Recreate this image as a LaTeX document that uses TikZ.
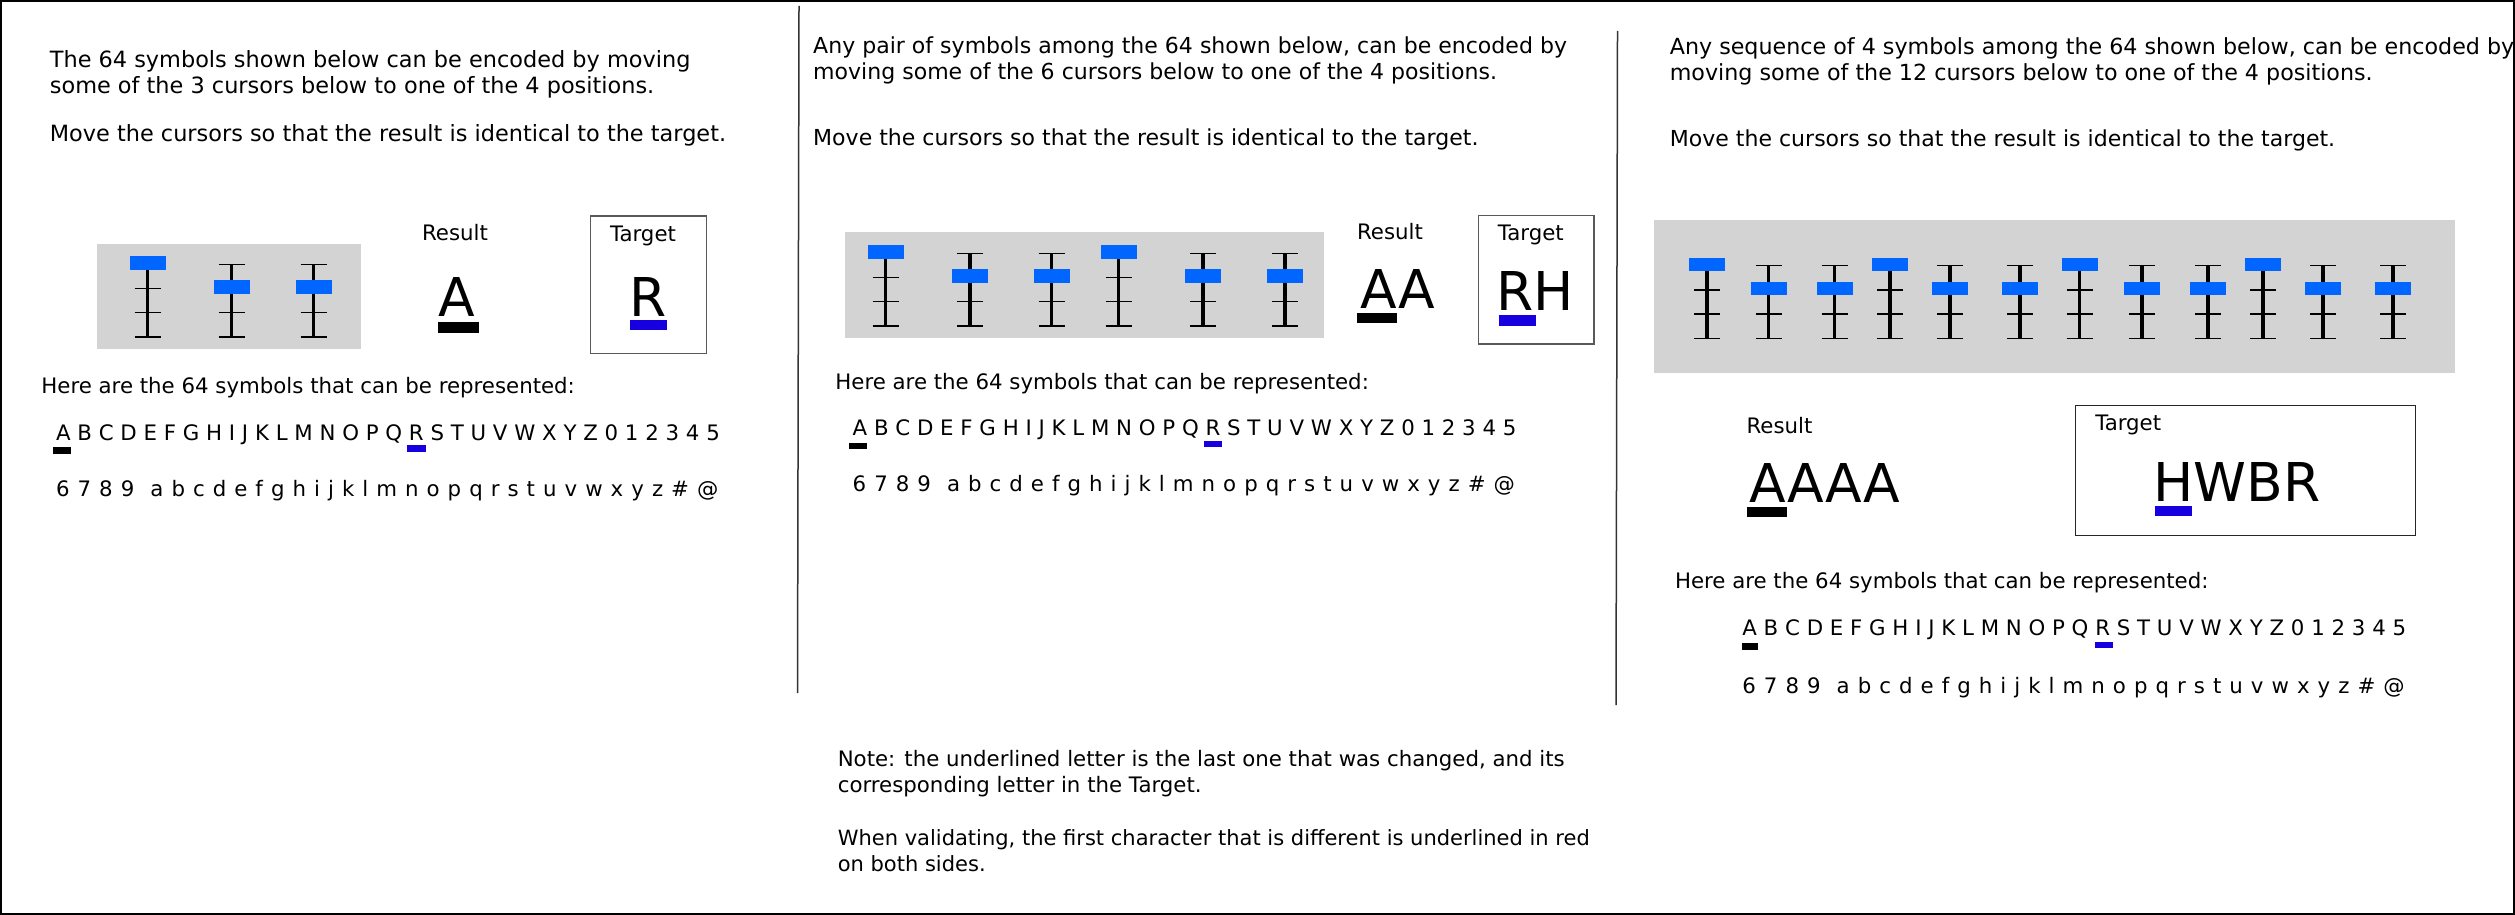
\documentclass[tikz,border=0pt]{standalone}
\usepackage{fontspec}
\setmainfont{DejaVu Sans}
\definecolor{handleblue}{RGB}{0,102,255}
\definecolor{markblue}{RGB}{22,0,224}
\definecolor{panelgray}{RGB}{211,211,211}
\tikzset{
  txt/.style={anchor=base west, inner sep=0pt, align=left, font=\fontsize{10.65}{13.35}\selectfont},
  uptxt/.style={txt, font=\fontsize{#1}{13.35}\selectfont},
  lbl/.style={anchor=base, inner sep=0pt, font=\fontsize{10.65}{13.35}\selectfont},
  bigtxt/.style={anchor=base, inner sep=0pt, font=\fontsize{26.75}{30}\selectfont},
  panel/.style={fill=panelgray},
  targetbox/.style={draw=black!65, line width=0.75pt},
  rail/.style={line width=1.65pt},
  tick/.style={line width=0.7pt},
  handle/.style={fill=handleblue},
  resmark/.style={fill=black},
  tgtmark/.style={fill=markblue},
}
\newcommand{\upperrow}{A B C D E F G H I J K L M N O P Q R S T U V W X Y Z 0 1 2 3 4 5}
\newcommand{\lowerrow}{\spaceskip=0.377em\relax 6 7 8 9\ \ a b c d e f g h i j k l m n o p q r s t u v w x y z \# @}
% #1 = y of top tick, #2 = list of x/position
\newcommand{\drawcursors}[2]{%
  \foreach \cx/\cp in {#2} {
    \draw[rail] ({\cx},{#1}) -- ({\cx},{#1+72.6});
    \foreach \k in {0,...,3}
      \draw[tick] ({\cx-13},{#1+\k*24.2}) -- ({\cx+13},{#1+\k*24.2});
    \fill[handle] ({\cx-18},{#1+\cp*24.2-8.2}) rectangle ({\cx+18},{#1+\cp*24.2+5.2});
  }}
\begin{document}
\begin{tikzpicture}[x=0.5pt, y=-0.5pt]
    \useasboundingbox (0,0) rectangle (2515,915);
    \draw[line width=1pt] (1,1) rectangle (2514,914);

    % Dividers
    \draw[line width=0.75pt, black!80] (799,6) -- (797.5,693);
    \draw[line width=0.75pt, black!80] (1617.5,31) -- (1616,705);

    % One symbol
    \node[uptxt=11.2] (intro1) at (49.5,94) {The 64 symbols shown below can be encoded by moving\\some of the 3 cursors below to one of the 4 positions.};
    \node[uptxt=11.2] (move1) at (49.5,141) {Move the cursors so that the result is identical to the target.};
    \fill[panel] (97.3,244) rectangle (360.7,349.3);
    \drawcursors{264.3}{147.7/0, 231.7/1, 313.7/1}
    \node[lbl] (reslbl1) at (455,240) {Result};
    \node[bigtxt] (res1) at (457.2,316.7) {A};
    \fill[resmark] (438.3,322.3) rectangle (478.7,332.7);
    \draw[targetbox] (590.3,216) rectangle (706.3,353.7);
    \node[lbl] (tgtlbl1) at (643,241) {Target};
    \node[bigtxt] (tgt1) at (648,316.7) {R};
    \fill[tgtmark] (630,320.3) rectangle (667,330);
    \node[txt] (here1) at (41,393.3) {Here are the 64 symbols that can be represented:};
    \node[txt] (rowa1) at (55.7,440) {\upperrow};
    \node[txt] (rowb1) at (55.7,496) {\lowerrow};
    \fill[resmark] (53,447.3) rectangle (71,454);
    \fill[tgtmark] (407.3,445.3) rectangle (425.7,451.7);

    % Pair of symbols
    \node[uptxt=11.02] (intro2) at (812.8,80) {Any pair of symbols among the 64 shown below, can be encoded by\\moving some of the 6 cursors below to one of the 4 positions.};
    \node[uptxt=11.02] (move2) at (812.8,145.9) {Move the cursors so that the result is identical to the target.};
    \fill[panel] (845,232.3) rectangle (1324,337.7);
    \drawcursors{253.3}{885.7/0, 970/1, 1051.7/1, 1118.7/0, 1203/1, 1285/1}
    \node[lbl] (reslbl2) at (1390,239.3) {Result};
    \node[bigtxt] (res2) at (1397.5,308.3) {AA};
    \fill[resmark] (1357.3,312.7) rectangle (1397.3,322.7);
    \draw[targetbox] (1478.3,215.7) rectangle (1594,344);
    \node[lbl] (tgtlbl2) at (1530.8,240) {Target};
    \node[bigtxt] (tgt2) at (1535,310) {RH};
    \fill[tgtmark] (1499.3,315.3) rectangle (1536.3,325.7);
    \node[txt] (here2) at (835,389.3) {Here are the 64 symbols that can be represented:};
    \node[txt] (rowa2) at (852.3,435) {\upperrow};
    \node[txt] (rowb2) at (852.3,491) {\lowerrow};
    \fill[resmark] (849.3,442.6) rectangle (867.3,449);
    \fill[tgtmark] (1204,440.5) rectangle (1222,446.9);
    \node[txt] (note1) at (837.4,792.7) {Note: the underlined letter is the last one that was changed, and its\\corresponding letter in the Target.};
    \node[uptxt=10.5] (note2) at (837.4,871.7) {When validating, the first character that is different is underlined in red\\on both sides.};

    % Sequence of 4 symbols
    \node[uptxt=11.1] (intro3) at (1669.4,81) {Any sequence of 4 symbols among the 64 shown below, can be encoded by\\moving some of the 12 cursors below to one of the 4 positions.};
    \node[uptxt=11.02] (move3) at (1669.4,146.6) {Move the cursors so that the result is identical to the target.};
    \fill[panel] (1654.3,220.3) rectangle (2454.8,372.6);
    \drawcursors{265.7}{1707/0, 1768.6/1, 1834.6/1, 1890/0, 1950/1, 2020/1, 2079.7/0, 2142/1, 2208/1, 2263/0, 2323/1, 2393/1}
    \node[lbl] (reslbl3) at (1779.5,433) {Result};
    \node[bigtxt] (res3) at (1825,502.7) {AAAA};
    \fill[resmark] (1747.3,507.3) rectangle (1787.3,517.3);
    \draw[targetbox, draw=black!85] (2075.3,405.7) rectangle (2415.7,535.3);
    \node[lbl] (tgtlbl3) at (2128.2,430) {Target};
    \node[bigtxt] (tgt3) at (2237,501) {HWBR};
    \fill[tgtmark] (2155.3,506.3) rectangle (2192.3,516.3);
    \node[txt] (here3) at (1674.6,588.7) {Here are the 64 symbols that can be represented:};
    \node[txt] (rowa3) at (1742,635.7) {\upperrow};
    \node[txt] (rowb3) at (1742,693.3) {\lowerrow};
    \fill[resmark] (1742,643) rectangle (1758,650);
    \fill[tgtmark] (2095,641.6) rectangle (2113,648);

\end{tikzpicture}
\end{document}
